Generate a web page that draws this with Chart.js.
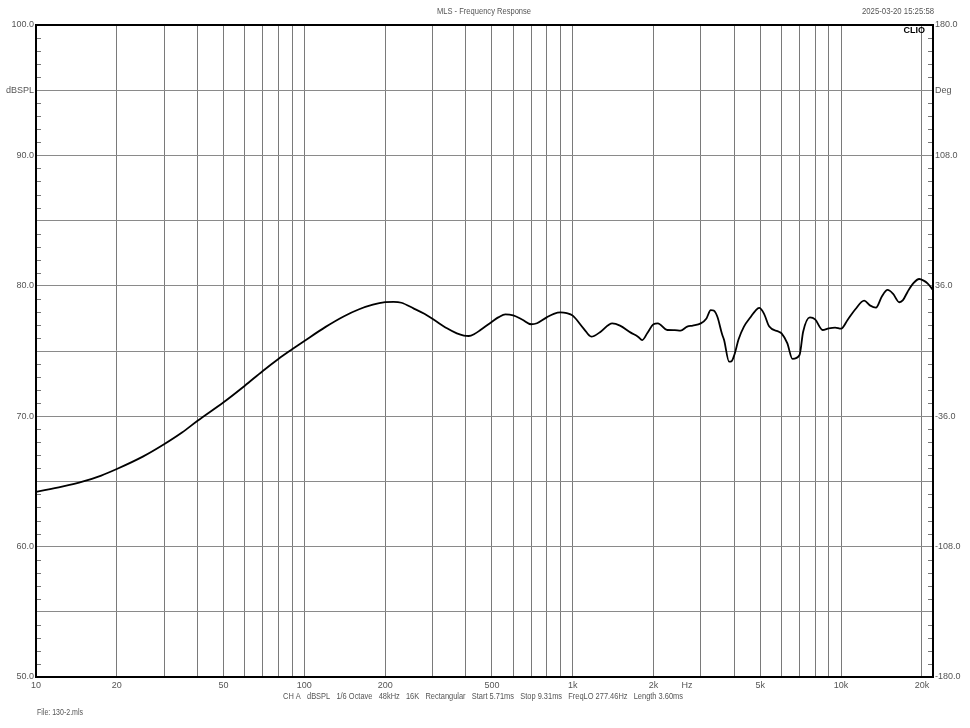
<!DOCTYPE html>
<html>
<head>
	<title>MLS - Frequency Response</title>
	<script src="https://cdn.jsdelivr.net/npm/chart.js"></script>
	<style>
		body { margin: 0; background: #fff; }
		.chart-container { width: 970px; height: 728px; }
	</style>
</head>
<body>
	<div class="chart-container">
		<canvas id="myChart" width="970" height="728"></canvas>
	</div>
	<script>
		const freqs = [10, 12.5, 15, 17.5, 20, 25, 30, 35, 40, 50, 60, 70, 80, 90, 100, 120, 140, 160, 180, 200,
			215, 230, 255, 280, 302, 340, 370, 393, 410, 430, 453, 500, 530, 561, 600, 650, 700, 736, 800, 850,
			900, 950, 1000, 1100, 1173, 1200, 1271, 1403, 1500, 1645, 1750, 1816, 1900, 2000, 2075, 2249, 2400,
			2522, 2670, 2800, 3000, 3150, 3267, 3350, 3459, 3600, 3664, 3824, 3900, 4000, 4150, 4345, 4611, 4800,
			4950, 5153, 5400, 5862, 6000, 6300, 6590, 7000, 7220, 7650, 8000, 8530, 9000, 9500, 10000, 10570,
			11300, 12190, 12800, 13490, 14200, 14900, 15600, 16480, 17000, 17700, 18600, 19540, 20300, 20990, 22000];
		const spl = [64.2, 64.6, 65.0, 65.45, 65.95, 66.9, 67.85, 68.75, 69.65, 71.07, 72.34, 73.47, 74.39, 75.13, 75.77, 76.85, 77.65, 78.2, 78.55, 78.74,
			78.77, 78.7, 78.27, 77.85, 77.43, 76.74, 76.35, 76.18, 76.15, 76.3, 76.61, 77.25, 77.6, 77.81, 77.73, 77.4, 77.05, 77.13, 77.58, 77.85,
			77.96, 77.9, 77.71, 76.7, 76.1, 76.15, 76.48, 77.12, 76.95, 76.41, 76.1, 75.84, 76.4, 77.05, 77.12, 76.61, 76.6,
			76.56, 76.87, 76.95, 77.12, 77.5, 78.14, 78.1, 77.63, 76.3, 75.84, 74.18, 74.2, 74.69, 75.9, 76.87, 77.63, 78.1,
			78.3, 77.89, 76.87, 76.48, 76.35, 75.6, 74.39, 74.69, 76.48, 77.58, 77.43, 76.61, 76.74, 76.8, 76.71, 77.38,
			78.2, 78.86, 78.5, 78.32, 79.2, 79.68, 79.4, 78.74, 78.9, 79.55, 80.2, 80.52, 80.4, 80.19, 79.68];

		// axes
		const xGrid = [10, 20, 30, 40, 50, 60, 70, 80, 90, 100, 200, 300, 400, 500, 600, 700, 800, 900,
			1000, 2000, 3000, 4000, 5000, 6000, 7000, 8000, 9000, 10000, 20000];
		const xLabels = {10: '10', 20: '20', 50: '50', 100: '100', 200: '200', 500: '500',
			1000: '1k', 2000: '2k', 5000: '5k', 10000: '10k', 20000: '20k'};
		const splLabels = {100: '100.0', 95: 'dBSPL', 90: '90.0', 80: '80.0', 70: '70.0', 60: '60.0', 50: '50.0'};
		const phaseTicks = [-180, -108, -36, 36, 108, 144, 180];
		const phaseLabels = {'-180': '-180.0', '-108': '-108.0', '-36': '-36.0', '36': '36.0', '108': '108.0', '144': 'Deg', '180': '180.0'};

		const textGray = '#555';

		const decor = {
			id: 'decor',
			afterDraw(chart) {
				const ctx = chart.ctx;
				const a = chart.chartArea;
				const y = chart.scales.y;
				ctx.save();
				// top frame
				ctx.strokeStyle = '#000';
				ctx.lineWidth = 2;
				ctx.beginPath();
				ctx.moveTo(a.left - 1, a.top);
				ctx.lineTo(a.right + 1, a.top);
				ctx.stroke();
				// small 1 dB ticks inside both side axes
				ctx.strokeStyle = '#777';
				ctx.lineWidth = 1;
				for (let v = 51; v < 100; v++) {
					if (v % 5 === 0) continue;
					const py = Math.round(y.getPixelForValue(v)) + 0.5;
					ctx.beginPath();
					ctx.moveTo(a.left + 1, py);
					ctx.lineTo(a.left + 5, py);
					ctx.moveTo(a.right - 5, py);
					ctx.lineTo(a.right - 1, py);
					ctx.stroke();
				}
				// texts
				const put = (txt, x, yy, w, align, font, color) => {
					ctx.font = font;
					ctx.fillStyle = color;
					ctx.textBaseline = 'middle';
					const m = ctx.measureText(txt).width;
					const s = w ? Math.min(1, w / m) : 1;
					ctx.save();
					ctx.translate(x, yy);
					ctx.scale(s, 1);
					ctx.textAlign = align;
					ctx.fillText(txt, 0, 0);
					ctx.restore();
				};
				put('MLS - Frequency Response', 484, 12, 94, 'center', '9px "Liberation Sans", Arial', textGray);
				put('2025-03-20 15:25:58', 934, 12, 72, 'right', '9px "Liberation Sans", Arial', textGray);
				put('CLIO', 925, 31, 22, 'right', 'bold 9px "Liberation Sans", Arial', '#000');
				put('Hz', 687, 686, 0, 'center', '9px "Liberation Sans", Arial', textGray);
				put('CH A   dBSPL   1/6 Octave   48kHz   16K   Rectangular   Start 5.71ms   Stop 9.31ms   FreqLO 277.46Hz   Length 3.60ms',
					283, 697, 400, 'left', '9px "Liberation Sans", Arial', textGray);
				put('File: 130-2.mls', 37, 713, 46, 'left', '9px "Liberation Sans", Arial', textGray);
				ctx.restore();
			}
		};

		const ctx = document.getElementById('myChart').getContext('2d');
		const myChart = new Chart(ctx, {
			type: 'line',
			data: {
				datasets: [{
					label: 'dBSPL',
					data: freqs.map((f, i) => ({x: f, y: spl[i]})),
					borderColor: '#000',
					borderWidth: 1.8,
					pointRadius: 0,
					cubicInterpolationMode: 'monotone',
					fill: false
				}]
			},
			options: {
				responsive: false,
				animation: false,
				layout: { padding: { top: 25, left: 0, right: 0, bottom: 0 } },
				plugins: { legend: { display: false }, tooltip: { enabled: false } },
				scales: {
					x: {
						type: 'logarithmic',
						min: 10,
						max: 22000,
						afterBuildTicks: s => { s.ticks = xGrid.map(v => ({value: v})); },
						afterFit: s => { s.height = 51; },
						ticks: {
							autoSkip: false,
							maxRotation: 0,
							padding: 3,
							color: textGray,
							font: { family: '"Liberation Sans", Arial', size: 9 },
							callback: v => xLabels[v] || ''
						},
						grid: { color: '#7a7a7a', lineWidth: 1, drawTicks: false },
						border: { display: true, color: '#000', width: 2 }
					},
					y: {
						type: 'linear',
						position: 'left',
						min: 50,
						max: 100,
						afterBuildTicks: s => {
							const t = [];
							for (let v = 50; v <= 100; v += 5) t.push({value: v});
							s.ticks = t;
						},
						afterFit: s => { s.width = 36; },
						ticks: {
							autoSkip: false,
							padding: 2,
							color: textGray,
							font: { family: '"Liberation Sans", Arial', size: 9 },
							callback: v => splLabels[v] || ''
						},
						grid: { color: '#8a8a8a', lineWidth: 1, drawTicks: false },
						border: { display: true, color: '#000', width: 2 }
					},
					y2: {
						type: 'linear',
						position: 'right',
						min: -180,
						max: 180,
						afterBuildTicks: s => { s.ticks = phaseTicks.map(v => ({value: v})); },
						afterFit: s => { s.width = 37; },
						ticks: {
							autoSkip: false,
							padding: 2,
							color: textGray,
							font: { family: '"Liberation Sans", Arial', size: 9 },
							callback: v => phaseLabels[String(v)] || ''
						},
						grid: { drawOnChartArea: false, drawTicks: false },
						border: { display: true, color: '#000', width: 2 }
					}
				}
			},
			plugins: [decor]
		});
	</script>
</body>
</html>
